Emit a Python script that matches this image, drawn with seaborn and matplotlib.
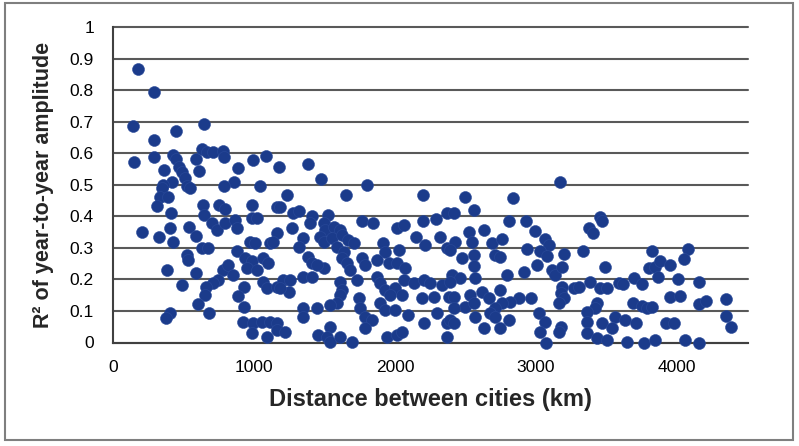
import matplotlib
matplotlib.use("Agg")
import matplotlib.pyplot as plt
import seaborn as sns
import pandas as pd
from matplotlib.patches import Rectangle

# ---- data ----
distance_km = [
    177, 295, 142, 650, 449, 295, 153, 295, 366, 425, 449, 472, 489, 513, 418, 355,
    591, 612, 631, 667, 709, 785, 789, 887, 863, 791, 997, 1087, 1175, 1046,
    1387, 1475, 1801, 3167,
    347, 335, 395, 312, 411, 529, 548, 206, 331, 406, 425, 543, 591, 643, 649, 756,
    796, 702, 738, 796, 867, 879, 986, 986, 1021, 1163, 974, 1009, 1116, 1163, 631,
    678, 525, 536, 879, 938, 986, 1068, 1104, 383, 591, 785, 820, 855, 950, 1021,
    749, 713, 662, 489, 1068, 1092, 1163, 931, 655, 887, 607, 931, 685, 406, 378,
    926, 997, 1057, 1116, 1163, 986, 1092,
    1234, 1655, 2199, 1187, 1281, 1317, 1411, 1400, 1529, 1494, 1506, 1565, 1612,
    1766, 1848, 2014, 2061, 2199, 2293, 2369, 1270, 1139, 1352, 1470, 1494, 1553,
    1624, 1671, 1707, 1317, 1589, 1636, 1919, 1931, 2026, 2151, 2215, 2321, 2369,
    1387, 1411, 1494, 1447, 1624, 1660, 1683, 1766, 1789, 1872, 1955, 2014, 2073,
    1210, 1257, 1246, 1187, 1352, 1411, 1612, 1624, 1730, 1872, 1896, 1931, 2002,
    2061, 2132, 2203, 2250, 2333, 1967, 2050, 2191, 2274, 2380, 1612, 1589, 1541,
    1447, 1352, 1352, 1742, 1754, 1789, 1837, 1896, 1931, 2002, 2096, 2298, 2203,
    2369, 1163, 1222, 1541, 1458, 1518, 1541, 1612, 1695, 1789, 1943, 2014, 2050,
    2369,
    2499, 2834, 2416, 2557, 2806, 2931, 2628, 2522, 2995, 3373, 3404, 3451, 3468,
    2428, 2392, 2546, 2688, 2759, 3066, 3090, 2936, 3031, 3078, 3196, 3333, 2475,
    2557, 2711, 2747, 2557, 3007, 3113, 3137, 3184, 3491, 2912, 2794, 2404, 2463,
    2570, 2392, 3380, 3456, 3504, 3586, 3184, 3267, 3302, 3174, 3196, 3160, 2617,
    2742, 2534, 2416, 2664, 2877, 2964, 2818, 2759, 2499, 2557, 2416, 2711, 3433,
    3421, 3362, 3019, 2570, 2676, 2711, 2806, 2392, 2416, 3066, 3362, 3468, 3563,
    2628, 2747, 3031, 3174, 3160, 3362, 3433, 3504, 3073,
    3823, 4075, 4052, 3799, 3846, 3882, 3948, 3862, 3617, 3692, 3752, 4004, 4153,
    3948, 4018, 4153, 4201, 4343, 3688, 3752, 3787, 3823, 4343, 4383, 3627, 3709,
    3539, 3924, 3981, 3645, 3763, 3846, 4059, 4153,
]
r2_amplitude = [
    0.868, 0.794, 0.687, 0.693, 0.672, 0.641, 0.574, 0.588, 0.548, 0.595, 0.583,
    0.558, 0.542, 0.521, 0.510, 0.500, 0.583, 0.544, 0.614, 0.604, 0.604, 0.606,
    0.590, 0.553, 0.510, 0.498, 0.579, 0.593, 0.558, 0.495,
    0.567, 0.518, 0.500, 0.510,
    0.490, 0.463, 0.463, 0.433, 0.412, 0.495, 0.490, 0.352, 0.334, 0.362, 0.320,
    0.368, 0.338, 0.437, 0.405, 0.437, 0.423, 0.378, 0.357, 0.378, 0.389, 0.362,
    0.437, 0.394, 0.394, 0.431, 0.320, 0.315, 0.315, 0.347, 0.299, 0.299, 0.278,
    0.262, 0.291, 0.267, 0.257, 0.267, 0.251, 0.230, 0.222, 0.230, 0.246, 0.214,
    0.236, 0.230, 0.198, 0.188, 0.175, 0.183, 0.193, 0.172, 0.177, 0.177, 0.151,
    0.148, 0.122, 0.114, 0.095, 0.095, 0.077, 0.066, 0.061, 0.066, 0.066, 0.061,
    0.031, 0.018,
    0.468, 0.468, 0.468, 0.431, 0.410, 0.418, 0.400, 0.378, 0.405, 0.378, 0.357,
    0.368, 0.357, 0.384, 0.378, 0.362, 0.373, 0.384, 0.391, 0.410, 0.362, 0.320,
    0.331, 0.336, 0.320, 0.331, 0.341, 0.325, 0.315, 0.304, 0.304, 0.288, 0.315,
    0.288, 0.294, 0.336, 0.310, 0.336, 0.299, 0.272, 0.251, 0.236, 0.246, 0.267,
    0.251, 0.230, 0.267, 0.246, 0.262, 0.251, 0.251, 0.236, 0.198, 0.198, 0.161,
    0.172, 0.209, 0.209, 0.193, 0.167, 0.198, 0.209, 0.188, 0.167, 0.172, 0.198,
    0.188, 0.198, 0.188, 0.183, 0.151, 0.151, 0.140, 0.145, 0.145, 0.151, 0.124,
    0.119, 0.109, 0.109, 0.082, 0.140, 0.109, 0.082, 0.071, 0.124, 0.103, 0.103,
    0.087, 0.093, 0.061, 0.061, 0.040, 0.034, 0.050, 0.024, 0.018, 0.003, 0.018,
    0.003, 0.045, 0.018, 0.024, 0.034, 0.018,
    0.463, 0.458, 0.410, 0.421, 0.387, 0.387, 0.357, 0.352, 0.355, 0.362, 0.347,
    0.397, 0.384, 0.320, 0.294, 0.320, 0.315, 0.328, 0.328, 0.310, 0.296, 0.291,
    0.275, 0.281, 0.291, 0.267, 0.278, 0.278, 0.272, 0.243, 0.246, 0.230, 0.214,
    0.239, 0.241, 0.225, 0.214, 0.214, 0.204, 0.204, 0.193, 0.193, 0.172, 0.172,
    0.188, 0.177, 0.172, 0.177, 0.156, 0.140, 0.124, 0.161, 0.167, 0.151, 0.145,
    0.140, 0.140, 0.140, 0.130, 0.124, 0.114, 0.124, 0.109, 0.109, 0.124, 0.109,
    0.098, 0.093, 0.082, 0.093, 0.082, 0.071, 0.071, 0.061, 0.066, 0.066, 0.061,
    0.082, 0.045, 0.045, 0.034, 0.050, 0.034, 0.029, 0.013, 0.008, 0.000,
    0.290, 0.297, 0.265, 0.236, 0.241, 0.257, 0.246, 0.207, 0.186, 0.204, 0.186,
    0.200, 0.193, 0.143, 0.148, 0.122, 0.132, 0.138, 0.126, 0.116, 0.109, 0.114,
    0.084, 0.048, 0.071, 0.061, 0.045, 0.063, 0.063, 0.003, 0.000, 0.008, 0.008,
    0.000,
]
x_ticks = [0, 1000, 2000, 3000, 4000]
y_ticks = [0, 0.1, 0.2, 0.3, 0.4, 0.5, 0.6, 0.7, 0.8, 0.9, 1.0]
y_tick_labels = ["0", "0.1", "0.2", "0.3", "0.4", "0.5", "0.6", "0.7", "0.8", "0.9", "1"]
x_label = "Distance between cities (km)"
y_label = "R² of year-to-year amplitude"

df = pd.DataFrame({"distance": distance_km, "r2": r2_amplitude})

sns.set_style("white")
plt.rcParams["font.family"] = ["Liberation Sans", "DejaVu Sans"]

W, H = 799, 446
fig = plt.figure(figsize=(W / 100, H / 100), dpi=100)
left, right, top, bottom = 112.7, 747.7, 27.3, 342.5
ax = fig.add_axes([left / W, 1 - bottom / H, (right - left) / W, (bottom - top) / H])

grid_col = "#595959"
sns.scatterplot(data=df, x="distance", y="r2", ax=ax, s=74, color="#1B3B8B",
                edgecolor="#2a4a9a", linewidth=0.4, clip_on=False, zorder=3)

ax.set_xlim(0, 4500)
ax.set_ylim(0, 1)
ax.set_xticks(x_ticks)
ax.set_xticklabels([str(t) for t in x_ticks])
ax.set_yticks(y_ticks)
ax.set_yticklabels(y_tick_labels)

ax.yaxis.grid(True, color=grid_col, linewidth=1.5)
ax.xaxis.grid(False)
for gl in ax.get_ygridlines():
    gl.set_clip_on(False)
ax.set_axisbelow(True)

for s in ["top", "right"]:
    ax.spines[s].set_visible(False)
for s in ["left", "bottom"]:
    ax.spines[s].set_color("#404040")
    ax.spines[s].set_linewidth(1.5)

ax.tick_params(axis="both", which="major", direction="out", colors="#404040",
               labelcolor="black", labelsize=12.5)
ax.tick_params(axis="y", length=4.5, width=1.5, pad=9)
ax.tick_params(axis="x", length=3.8, width=1.5, pad=9)

ax.set_xlabel(x_label, fontsize=17, fontweight="bold", labelpad=9)
ax.set_ylabel(y_label, fontsize=15.5, fontweight="bold", labelpad=11)

fig.add_artist(Rectangle((5 / W, 1 - 440 / H), (793 - 5) / W, (440 - 3) / H,
                         transform=fig.transFigure, fill=False,
                         edgecolor="#7f7f7f", linewidth=1.5))

fig.savefig("out.png", dpi=100)
